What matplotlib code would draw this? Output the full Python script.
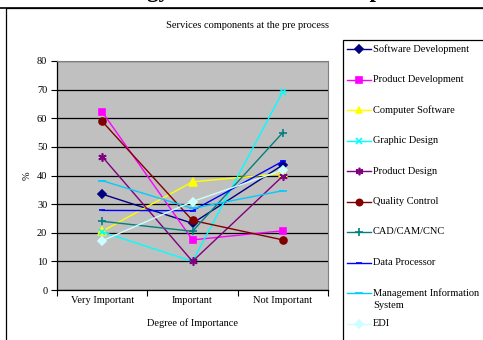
import matplotlib
matplotlib.use("Agg")
import matplotlib.pyplot as plt
from matplotlib.lines import Line2D
from matplotlib.patches import Rectangle

plt.rcParams["font.family"] = ["Liberation Serif", "DejaVu Serif"]

W, H = 483, 340

categories = ["Very Important", "Important", "Not Important"]

software_development = [33.5, 23.3, 43.7]
product_development = [62.2, 17.5, 20.7]
computer_software = [20.5, 37.8, 40.7]
graphic_design = [20.3, 10.0, 69.3]
product_design = [46.6, 10.0, 39.8]
quality_control = [58.9, 24.3, 17.5]
cad_cam_cnc = [24.0, 20.5, 55.0]
data_processor = [27.8, 27.7, 45.0]
management_info_system = [38.2, 28.5, 34.7]
edi = [17.2, 30.9, 41.9]

series_names = [
    "Software Development", "Product Development", "Computer Software",
    "Graphic Design", "Product Design", "Quality Control", "CAD/CAM/CNC",
    "Data Processor", "Management Information\nSystem", "EDI",
]
series_values = [
    software_development, product_development, computer_software,
    graphic_design, product_design, quality_control, cad_cam_cnc,
    data_processor, management_info_system, edi,
]
series_colors = ["#000080", "#FF00FF", "#FFFF00", "#00FFFF", "#800080",
                 "#800000", "#008080", "#0000FF", "#00CCFF", "#CCFFFF"]
series_markers = ["D", "s", "^", "x", (6, 2, 0), "o", "+", "_", "_", "D"]
marker_sizes = [4.5, 5, 5.5, 5, 6, 5, 6, 5, 6, 4.5]

yticks = [0, 10, 20, 30, 40, 50, 60, 70, 80]


def fx(x):
    return x / W


def fy(y):
    return 1 - y / H


fig = plt.figure(figsize=(W / 100, H / 100), dpi=100)
fig.patch.set_facecolor("white")

# page heading, mostly above the top edge
fig.text(fx(252), fy(-2.5), "Technology Services at the Components",
         ha="center", va="baseline", fontsize=16.5, fontweight="bold")
fig.add_artist(Line2D([0, 1], [fy(7.5), fy(7.5)], color="black", lw=1.2,
                      transform=fig.transFigure))

# outer chart frame
fig.add_artist(Rectangle((fx(6), fy(345)), fx(490), fy(8) - fy(345),
                         transform=fig.transFigure, fill=False,
                         edgecolor="black", lw=0.9))

# plot area
ax = fig.add_axes([fx(57), fy(290), fx(328) - fx(57), fy(61) - fy(290)])
ax.set_facecolor("#C0C0C0")
x = list(range(len(categories)))
for name, vals, c, m, ms in zip(series_names, series_values, series_colors,
                                series_markers, marker_sizes):
    ax.plot(x, vals, color=c, marker=m, markersize=ms, lw=1.0,
            markeredgewidth=1.2, label=name, zorder=3)

ax.set_xlim(-0.5, 2.5)
ax.set_ylim(0, 80)
ax.set_yticks(yticks)
ax.yaxis.grid(True, color="black", lw=0.9, zorder=1)
ax.set_axisbelow(True)
ax.set_xticks([-0.5, 0.5, 1.5, 2.5])
ax.set_xticklabels([])
ax.set_xticks(x, minor=True)
ax.set_xticklabels(categories, minor=True, fontsize=7.5)
ax.tick_params(axis="x", which="minor", length=0, pad=4)
ax.tick_params(axis="x", which="major", length=4, direction="out", width=0.8)
ax.tick_params(axis="y", length=4, direction="out", width=0.8, labelsize=7.5,
               pad=3)
for s in ["top", "right"]:
    ax.spines[s].set_color("#808080")
for s in ["left", "bottom"]:
    ax.spines[s].set_color("black")
    ax.spines[s].set_linewidth(0.9)

ax.set_ylabel("%", fontsize=7.5, labelpad=4)
ax.set_xlabel("Degree of Importance", fontsize=7.5, labelpad=10)
fig.text(fx(247), fy(25), "Services components at the pre process",
         ha="center", va="center", fontsize=7.5)

# legend frame and entries
fig.add_artist(Rectangle((fx(343), fy(345)), fx(200), fy(40) - fy(345),
                         transform=fig.transFigure, fill=False,
                         edgecolor="black", lw=0.9))
for i, line in enumerate(ax.get_lines()):
    yy = 49 + i * 30.5
    fig.add_artist(Line2D([fx(347), fx(371)], [fy(yy), fy(yy)],
                          color=line.get_color(), lw=1.0,
                          transform=fig.transFigure))
    fig.add_artist(Line2D([fx(359)], [fy(yy)], color=line.get_color(),
                          marker=line.get_marker(),
                          markersize=line.get_markersize() * 0.9,
                          markeredgewidth=1.2, lw=0,
                          transform=fig.transFigure))
    fig.text(fx(373), fy(yy - 4.5), line.get_label(), ha="left", va="top",
             fontsize=7.5, linespacing=1.35)

fig.savefig("out.png", dpi=100)
